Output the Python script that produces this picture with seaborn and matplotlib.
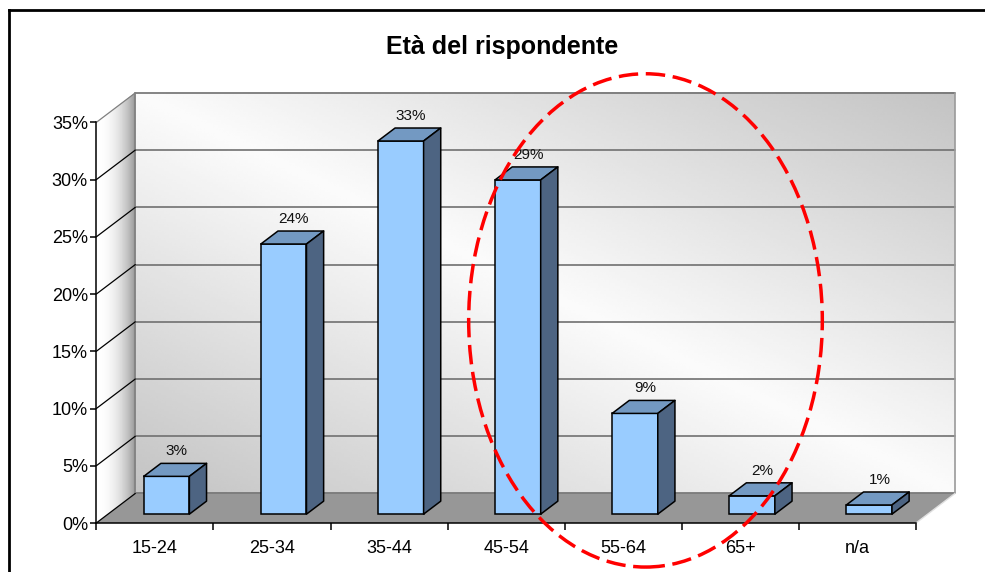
"""
Età del rispondente - barre 3D stile Excel ricostruite con seaborn
"""
import numpy as np
import pandas as pd
import matplotlib
matplotlib.use("Agg")
import matplotlib.pyplot as plt
from matplotlib.patches import Polygon, Ellipse
from matplotlib.collections import PolyCollection
from matplotlib.lines import Line2D
import seaborn as sns

OUT_PATH = "out.png"

CATEGORIES = ["15-24", "25-34", "35-44", "45-54", "55-64", "65+", "n/a"]
VALUES = [3.3, 23.6, 32.6, 29.2, 8.8, 1.6, 0.8]
Y_TICKS = [0, 5, 10, 15, 20, 25, 30, 35]
TITLE = "Età del rispondente"

# profondità 3D (unità dati) e posizione delle barre nella profondità
DX, DY = 0.333, 2.58
F0, FD = 0.30, 0.44

FRONT = "#99CCFF"
TOP = "#7399C2"
SIDE = "#4D6482"

# evidenziazione (ellisse rossa tratteggiata)
ELL_CENTER = (4.19, 17.7)
ELL_W, ELL_H = 3.02, 43.1

sns.set_theme(style="white")
plt.rcParams["font.family"] = ["Liberation Sans", "DejaVu Sans"]

df = pd.DataFrame({"age": CATEGORIES, "pct": VALUES})

fig = plt.figure(figsize=(9.85, 5.72), dpi=100)
ax = fig.add_axes([96.3 / 985, 49 / 572, 819.7 / 985, 400.6 / 572])
ax.set_facecolor("none")

x0, x1 = -0.5, len(CATEGORIES) - 0.5
ytop = Y_TICKS[-1]

# ---- parete di fondo (gradiente diagonale) ----
u, v = np.meshgrid(np.linspace(0, 1, 300), np.linspace(0, 1, 150))
back = 0.985 - 0.22 * np.abs(u + v - 1)
im = ax.imshow(back, extent=[x0 + DX, x1 + DX, DY, ytop + DY], origin="lower",
               cmap="gray", vmin=0, vmax=1, aspect="auto", zorder=0,
               interpolation="bilinear")
im.set_clip_on(False)

# ---- parete laterale (strisce sfumate) ----
ts = np.linspace(0, 1, 61)
strips, shades = [], []
for ta, tb in zip(ts[:-1], ts[1:]):
    strips.append([(x0 + DX * ta, DY * ta), (x0 + DX * tb, DY * tb),
                   (x0 + DX * tb, ytop + DY * tb), (x0 + DX * ta, ytop + DY * ta)])
    g = 1.0 - 0.40 * ((ta + tb) / 2) ** 2.4
    shades.append((g, g, g))
ax.add_collection(PolyCollection(strips, facecolors=shades, edgecolors=shades,
                                 linewidths=0.4, zorder=0.5, clip_on=False))

# ---- pavimento ----
ax.add_patch(Polygon([(x0, 0), (x1, 0), (x1 + DX, DY), (x0 + DX, DY)], closed=True,
                     facecolor="#979797", edgecolor="none", zorder=1, clip_on=False))
ax.plot([x1, x1 + DX], [0, DY], color="#e0e0e0", lw=1, zorder=1.5, clip_on=False)

# ---- griglia ----
for k in Y_TICKS:
    ax.plot([x0 + DX, x1 + DX], [k + DY, k + DY], color="#707070", lw=1.2,
            zorder=1.2, clip_on=False)
    ax.plot([x0, x0 + DX], [k, k + DY], color="#808080" if k == ytop else "black",
            lw=0.9, zorder=1.6, clip_on=False)
ax.plot([x0 + DX, x0 + DX], [DY, ytop + DY], color="#808080", lw=1.2, zorder=1.2, clip_on=False)
ax.plot([x1 + DX, x1 + DX], [DY, ytop + DY], color="#9a9a9a", lw=1.2, zorder=1.2, clip_on=False)

# ---- barre ----
sns.barplot(data=df, x="age", y="pct", width=0.39, color=FRONT, saturation=1,
            edgecolor="black", linewidth=1.1, ax=ax, zorder=3)

ddx, ddy = FD * DX, FD * DY
for p, val in zip(ax.containers[0].patches, VALUES):
    p.set_x(p.get_x() + F0 * DX)
    p.set_y(F0 * DY)
    p.set_clip_on(False)
    bx, by, w, h = p.get_x(), p.get_y(), p.get_width(), p.get_height()
    top = [(bx, by + h), (bx + w, by + h), (bx + w + ddx, by + h + ddy), (bx + ddx, by + h + ddy)]
    sd = [(bx + w, by), (bx + w + ddx, by + ddy), (bx + w + ddx, by + h + ddy), (bx + w, by + h)]
    ax.add_patch(Polygon(top, closed=True, facecolor=TOP, edgecolor="black", lw=1.1,
                         zorder=3, clip_on=False, joinstyle="round"))
    ax.add_patch(Polygon(sd, closed=True, facecolor=SIDE, edgecolor="black", lw=1.1,
                         zorder=3, clip_on=False, joinstyle="round"))
    ax.annotate(f"{round(val)}%", (bx + w / 2 + ddx * 0.6, by + h + ddy),
                xytext=(0, 8.8), textcoords="offset points", ha="center", va="center",
                fontsize=11, color="#111111", zorder=4, annotation_clip=False)

# ---- ellisse ----
ax.add_patch(Ellipse(ELL_CENTER, ELL_W, ELL_H, facecolor="none", edgecolor="#ff0000",
                     lw=2.5, linestyle=(0, (5.6, 2.2)), zorder=5, clip_on=False))

# ---- assi ----
ax.set_xlim(x0, x1)
ax.set_ylim(0, ytop)
for s in ["top", "right"]:
    ax.spines[s].set_visible(False)
for s in ["left", "bottom"]:
    ax.spines[s].set_color("black")
    ax.spines[s].set_linewidth(1.1)
    ax.spines[s].set_zorder(2)
ax.set_yticks(Y_TICKS)
ax.set_yticklabels([f"{t}%" for t in Y_TICKS])
ax.set_xticks(range(len(CATEGORIES)))
ax.set_xticklabels(CATEGORIES)
ax.set_xticks(np.arange(x0, x1 + 0.01, 1), minor=True)
ax.tick_params(axis="y", left=True, length=4, width=1.1, pad=2, labelsize=13,
               colors="black", direction="out")
ax.tick_params(axis="x", which="major", bottom=True, length=0, pad=12, labelsize=13,
               colors="black")
ax.tick_params(axis="x", which="minor", bottom=True, length=5, width=1.1,
               color="black", direction="out")
ax.set_xlabel("")
ax.set_ylabel("")
ax.grid(False)

fig.text(502 / 985, 1 - 47 / 572, TITLE, ha="center", va="center",
         fontsize=18, fontweight="bold", color="black")

# cornice del grafico
fl, ft = 8.7 / 985, 1 - 9.7 / 572
fig.add_artist(Line2D([fl, fl], [0, ft], color="black", lw=2.0, solid_capstyle="projecting"))
fig.add_artist(Line2D([fl, 1], [ft, ft], color="black", lw=2.0, solid_capstyle="projecting"))

fig.savefig(OUT_PATH, dpi=100)
